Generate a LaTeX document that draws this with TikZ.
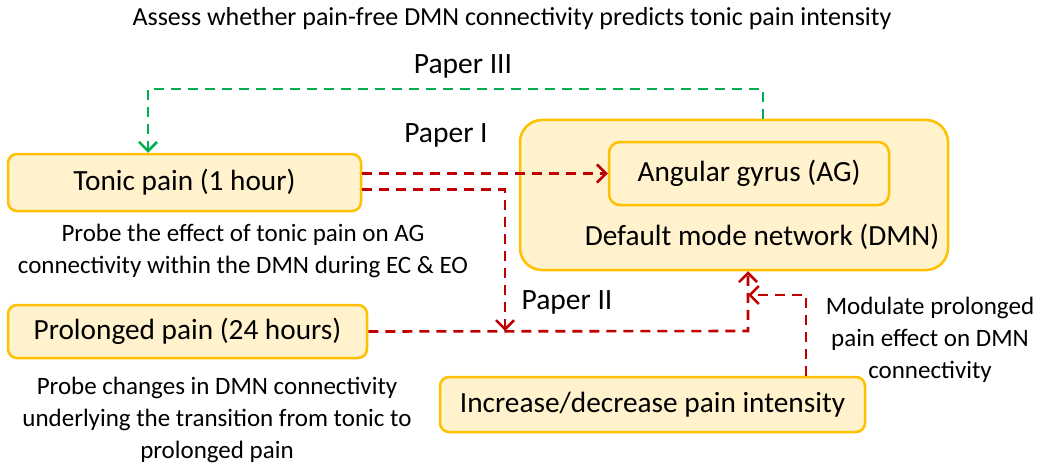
\documentclass[tikz,border=0pt]{standalone}
\usepackage{fontspec}
\setmainfont{Carlito}
\usetikzlibrary{arrows.meta,calc}
\definecolor{boxfill}{HTML}{FFF2CC}
\definecolor{boxline}{HTML}{FFC000}
\definecolor{linkred}{HTML}{C00000}
\definecolor{linkgreen}{HTML}{00B050}
\tikzset{
  stage/.style={draw=boxline, fill=boxfill, line width=2.5pt, rounded corners=9pt,
    inner sep=0pt, font=\fontsize{29.3}{33}\selectfont},
  caption/.style={align=center, inner sep=0pt, font=\fontsize{25}{32}\selectfont},
  paperlabel/.style={inner sep=0pt, font=\fontsize{29.5}{33}\selectfont},
  link/.style={line width=2.6pt, dash pattern=on 10pt off 7pt,
    -{Straight Barb[length=9pt,width=18pt,line width=2.5pt]}},
  redlink/.style={link, draw=linkred},
  greenlink/.style={link, draw=linkgreen},
}
\begin{document}
\begin{tikzpicture}[x=1pt,y=-1pt]
\useasboundingbox (0,0) rectangle (1043,468);

% network box with the angular gyrus inside
\node[stage, minimum width=428pt, minimum height=150pt, rounded corners=22pt] (dmn) at (734,195) {};
\node[stage, minimum width=280pt, minimum height=63pt, rounded corners=11pt] (ag) at (749,173.5) {Angular gyrus (AG)};
\node[inner sep=0pt, font=\fontsize{29.3}{33}\selectfont] (dmnlabel) at (762,237) {Default mode network (DMN)};

% pain conditions
\node[stage, minimum width=353pt, minimum height=57pt] (tonic) at (184.5,182.5) {Tonic pain (1 hour)};
\node[stage, minimum width=359pt, minimum height=53pt] (prolonged) at (187.5,331.5) {Prolonged pain (24 hours)};
\node[stage, minimum width=425pt, minimum height=55pt] (increase) at (652.5,404.5) {Increase/decrease pain intensity};

% descriptions
\node[inner sep=0pt, font=\fontsize{26}{30}\selectfont] (aim3) at (512,19) {Assess whether pain-free DMN connectivity predicts tonic pain intensity};
\node[caption] (aim1) at (243,251) {Probe the effect of tonic pain on AG\\connectivity within the DMN during EC \& EO};
\node[caption] (aim2) at (217,420) {Probe changes in DMN connectivity\\underlying the transition from tonic to\\prolonged pain};
\node[caption] (mod) at (930,340) {Modulate prolonged\\pain effect on DMN\\connectivity};
\node[paperlabel] (p3) at (463,66) {Paper III};
\node[paperlabel] (p1) at (446,135) {Paper I};
\node[paperlabel] (p2) at (567,302) {Paper II};

% connector turning points
\coordinate (gtop) at (763,89);
\coordinate (gx) at (148,0);
\coordinate (drop) at (505,331);
\coordinate (rise) at (748,331);
\coordinate (modx) at (806,0);
\coordinate (modin) at (748,295);

% connectors
\draw[greenlink] (dmn.north -| gtop) -- (gtop) -| (tonic.north -| gx);
\draw[redlink] (tonic.east |- ag.west) -- (ag.west);
\draw[redlink] ($(tonic.east)+(0,7)$) -| (drop);
\draw[redlink] (prolonged.east) -- (rise) -- (dmn.south -| rise);
\draw[redlink] (increase.north -| modx) |- (modin);
\end{tikzpicture}
\end{document}
